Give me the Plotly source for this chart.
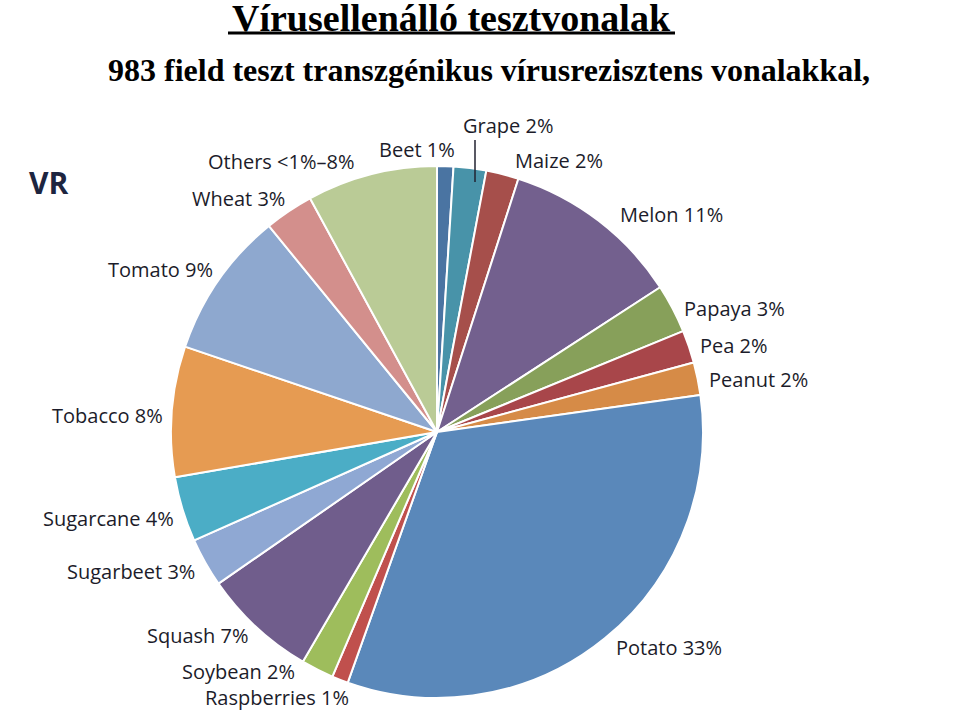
import plotly.graph_objects as go

W, H = 959, 725

categories = ["Beet", "Grape", "Maize", "Melon", "Papaya", "Pea", "Peanut", "Potato",
              "Raspberries", "Soybean", "Squash", "Sugarbeet", "Sugarcane", "Tobacco",
              "Tomato", "Wheat", "Others"]
values = [1, 2, 2, 11, 3, 2, 2, 33, 1, 2, 7, 3, 4, 8, 9, 3, 8]
value_text = ["1%", "2%", "2%", "11%", "3%", "2%", "2%", "33%", "1%", "2%", "7%",
              "3%", "4%", "8%", "9%", "3%", "<1%–8%"]
colors = ["#4a74a2", "#4893a9", "#a64f4b", "#73608e", "#87a05a", "#a8464a", "#d68b47",
          "#5a88ba", "#c0504d", "#9ebd5c", "#705d8c", "#8fa8d3", "#4badc6", "#e69b52",
          "#8ea8cf", "#d38f8c", "#bacb96"]
# label placement (left edge px, vertical centre px)
label_pos = [(377, 149), (461, 125), (513, 160), (618, 214), (682, 309), (698, 345),
             (707, 379), (614, 647), (203, 697), (180, 671), (145, 635), (65, 571),
             (41, 518), (50, 415), (106, 269), (190, 198), (206, 162)]

cx, cy, r = 437, 432, 266

fig = go.Figure(go.Pie(
    labels=categories, values=values, sort=False, direction="clockwise", rotation=0,
    marker=dict(colors=colors, line=dict(color="white", width=2)),
    textinfo="none", hoverinfo="label+value", showlegend=False,
    domain=dict(x=[(cx - r) / W, (cx + r) / W], y=[(H - cy - r) / H, (H - cy + r) / H]),
))

annos = []
for cat, vt, (px, py) in zip(categories, value_text, label_pos):
    annos.append(dict(x=px / W, y=1 - py / H, xref="paper", yref="paper",
                      xanchor="left", yanchor="middle", showarrow=False,
                      text=f"{cat} {vt}",
                      font=dict(family="Open Sans", size=20, color="#1c1c2a")))
annos.append(dict(x=27 / W, y=1 - 183 / H, xref="paper", yref="paper", xanchor="left",
                  yanchor="middle", showarrow=False, text="<b>VR</b>",
                  font=dict(family="Open Sans", size=30, color="#1d2540")))
annos.append(dict(x=451.5 / W, y=1 - 18 / H, xref="paper", yref="paper", xanchor="center",
                  yanchor="middle", showarrow=False, text="<b>Vírusellenálló tesztvonalak</b>",
                  font=dict(family="Liberation Serif", size=38, color="#000000")))
annos.append(dict(x=488.5 / W, y=1 - 70 / H, xref="paper", yref="paper", xanchor="center",
                  yanchor="middle", showarrow=False,
                  text="<b>983 field teszt transzgénikus vírusrezisztens vonalakkal,</b>",
                  font=dict(family="Liberation Serif", size=32, color="#000000")))

shapes = [
    dict(type="line", xref="paper", yref="paper", x0=228 / W, x1=675 / W,
         y0=1 - 33 / H, y1=1 - 33 / H, line=dict(color="black", width=3)),
    dict(type="line", xref="paper", yref="paper", x0=475 / W, x1=475 / W,
         y0=1 - 140 / H, y1=1 - 182 / H, line=dict(color="#222231", width=1.5)),
]

fig.update_layout(width=W, height=H, margin=dict(l=0, r=0, t=0, b=0),
                  paper_bgcolor="white", plot_bgcolor="white",
                  annotations=annos, shapes=shapes)

fig.write_html("out.html")
